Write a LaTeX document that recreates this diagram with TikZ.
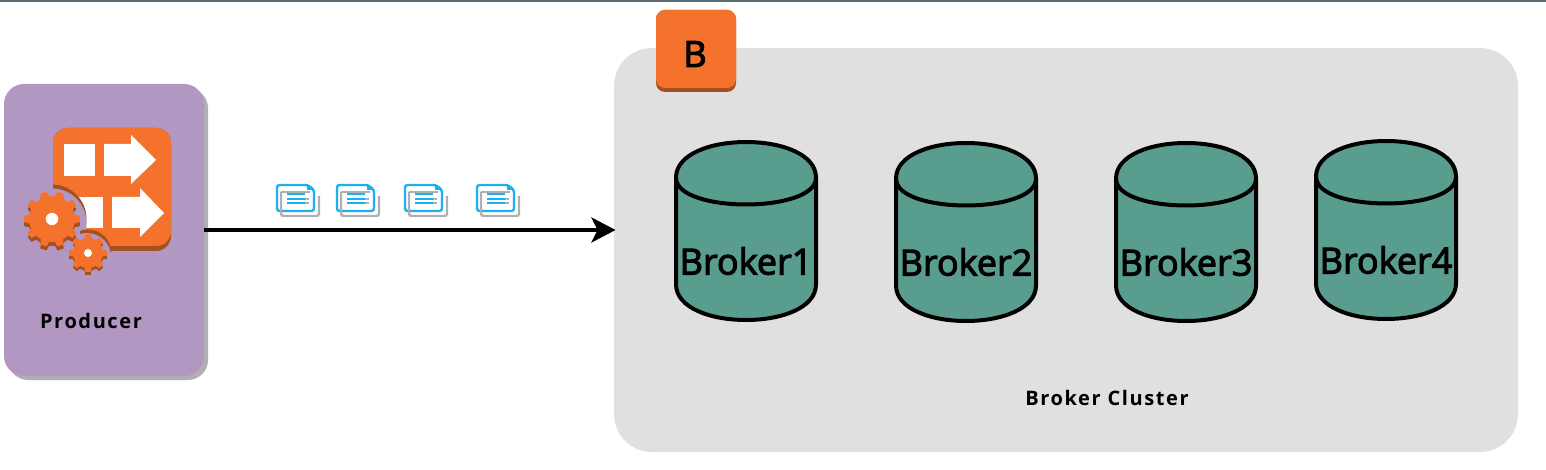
\documentclass[tikz,border=0pt]{standalone}
\usepackage{fontspec}
\setmainfont{Open Sans}
\newfontfamily\brokerfont[FakeBold=3]{Open Sans}
\usetikzlibrary{arrows.meta}
\definecolor{orangeA}{HTML}{F4722B}
\definecolor{orangeD}{HTML}{A64F20}
\definecolor{purpleA}{HTML}{B297C2}
\definecolor{shadowG}{HTML}{B0B0B0}
\definecolor{clusterG}{HTML}{E0E0E0}
\definecolor{tealA}{HTML}{599D8E}
\definecolor{barG}{HTML}{5A6B75}
\definecolor{docB}{HTML}{1BB1EE}
\tikzset{
  x=1pt,y=-1pt,
  panel/.style={inner sep=0pt,outer sep=0pt,rounded corners=#1},
  cyltext/.style={font=\brokerfont\fontsize{36}{36}\selectfont,text=black,inner sep=0pt},
  cyledge/.style={draw=black,line width=4pt,fill=tealA},
  boldlabel/.style={font=\bfseries\fontsize{20}{20}\selectfont\addfontfeatures{LetterSpace=8},text=black,inner sep=0pt},
  whiteshape/.style={fill=white},
  link/.style={draw=black,line width=3.5pt,shorten >=-1.5pt,-{Stealth[length=24pt,width=25pt,inset=6pt]}},
}
% cylinder: name, left x, top y, bottom y, label
\newcommand{\brokercyl}[5]{%
  \path[cyledge] (#2,#3+35.7) .. controls (#2,#3-11.9) and (#2+140,#3-11.9) .. (#2+140,#3+35.7)
     -- (#2+140,#4-35.7) .. controls (#2+140,#4+11.9) and (#2,#4+11.9) .. (#2,#4-35.7) -- cycle;
  \path[cyledge,fill=none] (#2,#3+35.7) .. controls (#2,#3+71.4) and (#2+140,#3+71.4) .. (#2+140,#3+35.7);
  \node[cyltext] (#1) at (#2+70,#3/2+#4/2+30) {#5};}
% gear: cx, cy, inner r, outer r, teeth, fill
\newcommand{\gearshape}[6]{%
  \begin{scope}[shift={(#1,#2)}]
    \pgfmathsetmacro{\gstep}{360/#5}
    \fill[#6] (-0.30*\gstep:#3)
      \foreach \k in {0,...,\numexpr#5-1\relax} {
        -- ({\k*\gstep-0.30*\gstep}:#3) -- ({\k*\gstep-0.18*\gstep}:#4)
        -- ({\k*\gstep+0.18*\gstep}:#4) -- ({\k*\gstep+0.30*\gstep}:#3)
      } -- cycle;
  \end{scope}}
\newcommand{\docicon}[1]{%
  \begin{scope}[shift={(#1,184)}]
    \draw[docB,line width=2.4pt,fill=white,rounded corners=2.5pt] (1,1) -- (32,1) -- (38,6) -- (38,27) -- (1,27) -- cycle;
    \fill[docB] (31,1) -- (38,6) -- (31,6) -- cycle;
    \draw[shadowG,line width=2.4pt,rounded corners=2.5pt] (5,8) -- (5,32) -- (43,32) -- (43,12);
    \draw[shadowG,line width=2.4pt] (5,8) -- (34,8);
    \draw[shadowG,line width=2pt] (11,15) -- (33,15) (11,19.5) -- (33,19.5);
    \draw[docB,line width=2pt] (11,10) -- (29,10) (11,15) -- (29,15) (11,19.5) -- (29,19.5);
  \end{scope}}
\begin{document}
\begin{tikzpicture}
\useasboundingbox (0,0) rectangle (1546,470);
\fill[white] (0,0) rectangle (1546,470);
\fill[barG] (0,0) rectangle (1546,2);
% producer
\fill[shadowG,rounded corners=20pt] (8,88) rectangle (208,380);
\node[panel=20pt,fill=purpleA,minimum width=200pt,minimum height=292pt] (producer) at (104,230) {};
% cluster
\node[panel=38pt,fill=clusterG,minimum width=904pt,minimum height=404pt] (cluster) at (1066,250) {};
% B badge
\fill[orangeD,rounded corners=9pt] (656,10) rectangle (736,92);
\node[panel=9pt,fill=orangeA,minimum width=80pt,minimum height=78pt] (badge) at (696,49) {};
\node[text=black,inner sep=0pt,font=\brokerfont\fontsize{36}{36}\selectfont] (badgetext) at (695,54) {B};
% icon
\fill[orangeD,rounded corners=15pt] (53,128) rectangle (171,251);
\fill[orangeA,rounded corners=15pt] (53,128) rectangle (171,246);
\fill[whiteshape] (64,144) rectangle (95,176);
\fill[whiteshape] (104,144) -- (131,144) -- (131,135) -- (156,160) -- (131,184) -- (131,176) -- (104,176) -- cycle;
\fill[whiteshape] (78,197) rectangle (103,228);
\fill[whiteshape] (112,197) -- (140,197) -- (140,188) -- (164,213) -- (140,237) -- (140,228) -- (112,228) -- cycle;
\begin{scope}
  \clip[rounded corners=15pt] (53,128) rectangle (171,252);
  \fill[orangeD] (52,219) circle[radius=34.5];
  \fill[purpleA] (52,223) circle[radius=34.5];
  \fill[orangeD] (88,253) circle[radius=23.5];
  \fill[purpleA] (87,257) circle[radius=24];
  \fill[purpleA] (40,215) rectangle (80,260);
\end{scope}
\gearshape{52}{223}{23}{28}{10}{orangeD}
\gearshape{52}{219}{23}{28}{10}{orangeA}
\fill[white] (52,219) circle[radius=6.2];
\gearshape{88}{256}{15}{19}{8}{orangeD}
\gearshape{88}{253}{15}{19}{8}{orangeA}
\fill[white] (88,253) circle[radius=4];
\node[boldlabel] (producerlabel) at (91,321) {Producer};
% documents
\docicon{276}\docicon{336}\docicon{404}\docicon{476}
% connector
\draw[link] (producer.east) -- (producer.east -| cluster.west);
% brokers
\brokercyl{b1}{676}{142}{320}{Broker1}
\brokercyl{b2}{896}{143}{321}{Broker2}
\brokercyl{b3}{1116}{143}{321}{Broker3}
\brokercyl{b4}{1316}{141}{319}{Broker4}
\node[boldlabel] (clusterlabel) at (1107,398) {Broker Cluster};
\end{tikzpicture}
\end{document}
